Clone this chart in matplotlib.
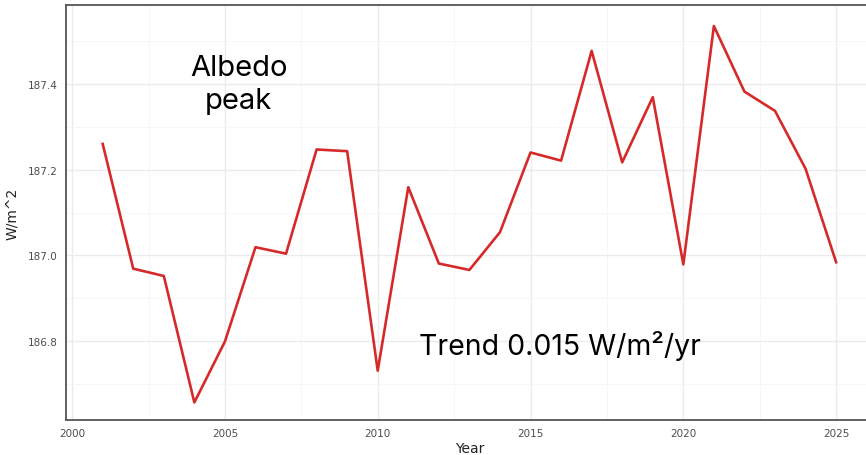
import matplotlib.pyplot as plt
import numpy as np

# Roczne wartości
years = np.arange(2001, 2026)
values = [187.260, 186.969, 186.952, 186.657, 186.799, 187.019, 187.004, 187.247,
          187.243, 186.731, 187.159, 186.981, 186.966, 187.054, 187.240, 187.221,
          187.477, 187.217, 187.369, 186.979, 187.535, 187.382, 187.337, 187.202,
          186.984]

x_ticks = [2000, 2005, 2010, 2015, 2020, 2025]
y_ticks = [186.8, 187.0, 187.2, 187.4]

fig = plt.figure(figsize=(8.66, 4.56), dpi=100)
ax = fig.add_axes([66 / 866, 1 - 421 / 456, (872.8 - 66) / 866, (421 - 6) / 456])

ax.plot(years, values, color="#d62a2a", linewidth=1.9, zorder=3)

ax.set_xlim(1999.8, 2026.2)
ax.set_ylim(186.616, 187.584)
ax.set_xticks(x_ticks)
ax.set_xticks(np.arange(2002.5, 2026, 5), minor=True)
ax.set_yticks(y_ticks)
ax.set_yticks([186.7, 186.9, 187.1, 187.3, 187.5], minor=True)
ax.set_yticklabels([f"{v:.1f}" for v in y_ticks])

ax.grid(which="major", color="#ebebeb", linewidth=1.0, zorder=0)
ax.grid(which="minor", color="#f5f5f5", linewidth=0.6, zorder=0)
ax.tick_params(which="both", length=0, labelsize=7.5, labelcolor="#4d4d4d", pad=6)

for side in ["left", "bottom", "top"]:
    ax.spines[side].set_color("#555555")
    ax.spines[side].set_linewidth(1.3)
ax.spines["right"].set_visible(False)

ax.set_xlabel("Year", fontsize=10, color="#222222", labelpad=2)
ax.set_ylabel("W/m^2", fontsize=10, color="#222222", labelpad=6)

# Adnotacje
ax.text(2005.45, 187.40, "Albedo\npeak", fontsize=21, ha="center", va="center",
        linespacing=1.3, family=["Inter", "DejaVu Sans"])
ax.text(2015.96, 186.79, "Trend 0.015 W/m²/yr", fontsize=20.5, ha="center", va="center",
        family=["Inter", "DejaVu Sans"])

fig.savefig("out.png", dpi=100)
